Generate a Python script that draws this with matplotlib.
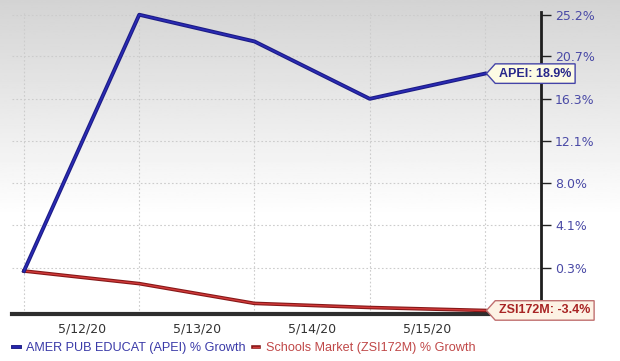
import numpy as np
import matplotlib
matplotlib.use('Agg')
import matplotlib.pyplot as plt
import matplotlib.patheffects as pe
from matplotlib.path import Path

# chart values
date_labels = ['5/12/20', '5/13/20', '5/14/20', '5/15/20']
apei_growth = [0.0, 25.2, 22.3, 16.3, 18.9]
zsi_growth = [0.0, -1.1, -2.8, -3.15, -3.4]
ytick_values = [0.3, 4.1, 8.0, 12.1, 16.3, 20.7, 25.2]
apei_name = 'AMER PUB EDUCAT (APEI) % Growth'
zsi_name = 'Schools Market (ZSI172M) % Growth'

def forward(r):
  return np.log1p(np.asarray(r, dtype = float) / 100.0)

def inverse(v):
  return np.expm1(np.asarray(v, dtype = float)) * 100.0

def tag_box(x0, y0, width, height, mutation_size):
  """
  Box with a pointed left side, like a price tag.
  """
  pad = 0.3 * mutation_size
  x0, y0 = x0 - pad, y0 - pad
  width, height = width + 2 * pad, height + 2 * pad
  depth = 0.45 * height
  verts = [(x0, y0), (x0 + width, y0), (x0 + width, y0 + height), (x0, y0 + height),
           (x0 - depth, y0 + height / 2), (x0, y0)]
  codes = [Path.MOVETO] + [Path.LINETO] * 4 + [Path.CLOSEPOLY]
  return Path(verts, codes)

fig = plt.figure(figsize = (6.2, 3.61), dpi = 100)

# light gray to white background gradient
bg = fig.add_axes([0, 0, 1, 1], zorder = -10)
t = np.linspace(0, 1, 200)
shade = 0.83 + 0.17 * np.clip(t / 0.6, 0, 1)
bg.imshow(shade[:, None], cmap = 'gray', vmin = 0, vmax = 1, aspect = 'auto', extent = [0, 1, 0, 1])
bg.axis('off')

ax = fig.add_axes([12 / 620, 1 - 314 / 361, (541 - 12) / 620, (314 - 12) / 361])
ax.set_facecolor('none')
ax.set_yscale('function', functions = (forward, inverse))

x = np.arange(len(apei_growth))
ax.plot(x, apei_growth, color = '#2a2ab4', lw = 1.2, zorder = 4,
        path_effects = [pe.Stroke(linewidth = 2.8, foreground = '#1c1c86'), pe.Normal()])
ax.plot(x, zsi_growth, color = '#d23a3a', lw = 1.0, zorder = 3,
        path_effects = [pe.Stroke(linewidth = 2.6, foreground = '#861818'), pe.Normal()])

ax.set_xlim(-0.104, 4.486)
ax.set_ylim(-3.7, 25.5)

ax.set_xticks(np.arange(len(date_labels)) + 0.5)
ax.set_xticklabels(date_labels)
ax.set_xticks(x, minor = True)
ax.tick_params(axis = 'x', which = 'both', length = 0, labelsize = 9, labelcolor = '#333333', pad = 6)

ax.yaxis.tick_right()
ax.set_yticks(ytick_values)
ax.set_yticklabels(['%.1f%%' % v for v in ytick_values])
ax.yaxis.set_minor_locator(matplotlib.ticker.NullLocator())
ax.tick_params(axis = 'y', length = 7, width = 1, color = '#222222', labelsize = 9, labelcolor = '#4a4aa6', pad = 3)

ax.grid(which = 'minor', axis = 'x', color = '#cccccc', linestyle = (0, (1.5, 2)), lw = 0.8)
ax.grid(which = 'major', axis = 'y', color = '#cccccc', linestyle = (0, (1.5, 2)), lw = 0.8)
ax.set_axisbelow(True)

for side in ['left', 'top']:
  ax.spines[side].set_visible(False)
ax.spines['right'].set_linewidth(2)
ax.spines['right'].set_color('#1e1e1e')
ax.spines['right'].set_zorder(1)
ax.spines['bottom'].set_linewidth(3)
ax.spines['bottom'].set_color('#2e2e2e')

# last value tags
ax.annotate('APEI: %.1f%%' % apei_growth[-1], xy = (x[-1], apei_growth[-1]), xytext = (14, 0),
            textcoords = 'offset pixels', ha = 'left', va = 'center', fontsize = 9,
            fontweight = 'bold', family = 'Liberation Sans', color = '#27278a', zorder = 10,
            annotation_clip = False,
            bbox = dict(boxstyle = tag_box, fc = '#fdfbe4', ec = '#4444a8', lw = 1))
ax.annotate('ZSI172M: %.1f%%' % zsi_growth[-1], xy = (x[-1], zsi_growth[-1]), xytext = (14, 0),
            textcoords = 'offset pixels', ha = 'left', va = 'center', fontsize = 9,
            fontweight = 'bold', family = 'Liberation Sans', color = '#a82424', zorder = 10,
            annotation_clip = False,
            bbox = dict(boxstyle = tag_box, fc = '#fdf2e4', ec = '#c07070', lw = 1))

# legend under the dates
leg = fig.legend(ax.get_lines(), [apei_name, zsi_name], loc = 'lower left', bbox_to_anchor = (0.003, -0.012),
                 ncol = 2, frameon = False, handlelength = 0.5, handletextpad = 0.5, columnspacing = 0.6,
                 prop = {'family': 'Liberation Sans', 'size': 9.1})
for text, col in zip(leg.get_texts(), ['#3a3aa8', '#c04848']):
  text.set_color(col)

fig.savefig('out.png', dpi = 100)
plt.close()
